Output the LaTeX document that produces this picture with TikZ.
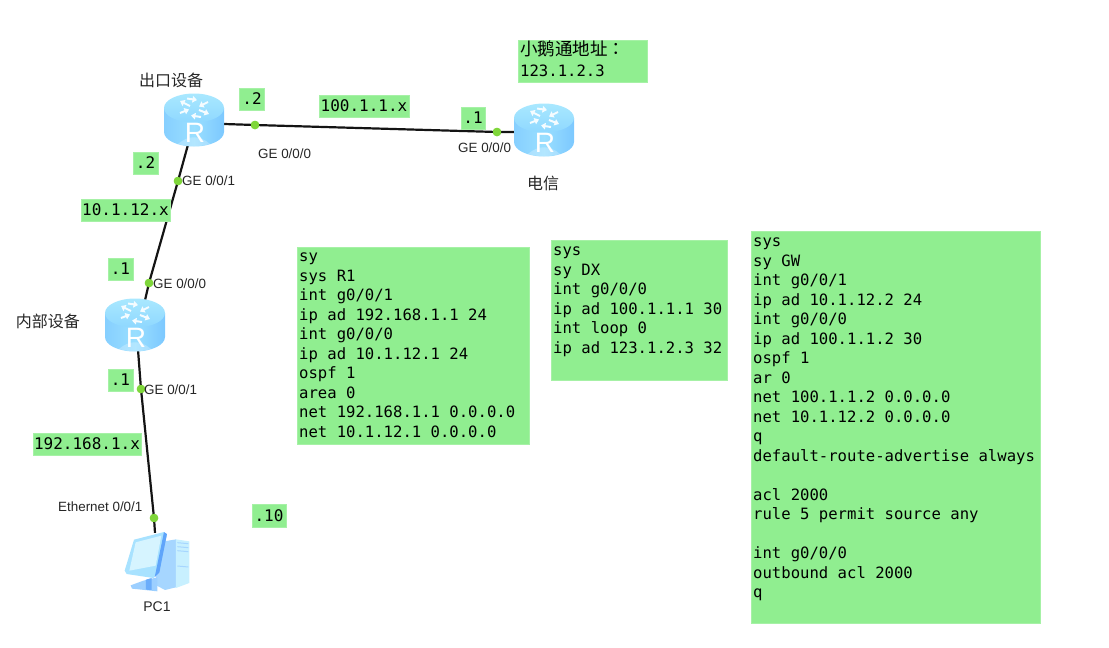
\documentclass[tikz,border=0pt]{standalone}
\usepackage{fontspec}
\setmainfont{Liberation Sans}
\newfontfamily\cjk{Noto Sans CJK SC}
\newfontfamily\cjktc{Noto Sans CJK TC}
\newfontfamily\monof{DejaVu Sans Mono}
\usetikzlibrary{arrows.meta,shadings}
\definecolor{notegreen}{HTML}{90EE90}
\definecolor{portgreen}{HTML}{7FD63A}
\definecolor{rleft}{HTML}{86CFFF}
\definecolor{rmid}{HTML}{9ADFFF}
\definecolor{rright}{HTML}{7CC8FF}
\definecolor{rtop}{HTML}{A9E8FF}
\definecolor{rtopb}{HTML}{8FD8FF}
\definecolor{pcframe}{HTML}{A8E2FF}
\definecolor{pcscreen}{HTML}{D6F4FF}
\definecolor{pcedge}{HTML}{5FA4FA}
\definecolor{pcside}{HTML}{A6D6FF}
\definecolor{pcfront}{HTML}{C8F0FF}
\definecolor{pcstand}{HTML}{9CCFFF}
\tikzset{
  x=1pt,y=-1pt,
  note/.style={fill=notegreen,draw=notegreen!80!white,line width=.4pt,inner sep=0pt,anchor=north west,font=\fontsize{15.6}{19.5}\selectfont\monof},
  short/.style={note,anchor=center,font=\fontsize{16}{18}\selectfont\monof},
  port/.style={circle,fill=portgreen,draw=none,minimum size=8.5pt,inner sep=0pt},
  portlabel/.style={font=\fontsize{13.4}{15}\selectfont,text=black!85,inner sep=0pt},
  devlabel/.style={font=\fontsize{16}{18}\selectfont\cjk,text=black!85,inner sep=0pt},
  link/.style={line width=2.2pt,draw=black!92},
  routerbox/.style={minimum width=60pt,minimum height=53pt,inner sep=0pt,draw=none},
  pcbox/.style={minimum width=66pt,minimum height=66pt,inner sep=0pt,draw=none},
  rarrow/.style={draw=white!88!rtop,line width=2pt,-{Triangle[length=4.5pt,width=6.5pt]}},
}
\newcommand{\routerdraw}[1]{%
  \begin{scope}[shift={(#1)}]
    \path[left color=rleft,right color=rright,middle color=rmid] (-30,-12) -- (-30,12) .. controls (-30,20) and (-16.6,26.5) .. (0,26.5) .. controls (16.6,26.5) and (30,20) .. (30,12) -- (30,-12) -- cycle;
    \path[fill=white,opacity=.25] (-16,24) .. controls (-6,15) and (6,15) .. (16,24) .. controls (6,27) and (-6,27) .. (-16,24) -- cycle;
    \path[top color=rtop,bottom color=rtopb] (0,-12) ellipse[x radius=30,y radius=14.5];
    \draw[rarrow] (-4,-14) -- (-14,-19);
    \draw[rarrow] (-14,-7) -- (-5,-10.5);
    \draw[rarrow] (14,-18) -- (5,-13.5);
    \draw[rarrow] (5,-10) -- (15,-6);
    \draw[rarrow] (-7,-21.5) -- (3,-20);
    \draw[rarrow] (7,-3) -- (-3,-4.5);
    \node[text=white,font=\fontsize{28}{28}\selectfont,inner sep=0pt] at (1,13) {R};
  \end{scope}}
\begin{document}
\begin{tikzpicture}
\useasboundingbox (0,0) rectangle (1109,648);
% device placeholders
\node[routerbox] (gw) at (194,120) {};
\node[routerbox] (dx) at (544,130) {};
\node[routerbox] (r1) at (135,325) {};
\node[pcbox] (pc) at (158,566) {};
% port dots (positions)
\node[port] (p1) at (255,125) {};
\node[port] (p2) at (497,132) {};
\node[port] (p3) at (178,181) {};
\node[port] (p4) at (149,283) {};
\node[port] (p5) at (141,389) {};
\node[port] (p6) at (154,518) {};
% links
\draw[link] ([yshift=-4pt]gw.east) -- (p1.center) -- (p2.center) -- ([yshift=-2pt]dx.west);
\draw[link] ([xshift=-6pt,yshift=2pt]gw.south) -- (p3.center) -- (p4.center) -- ([xshift=10pt,yshift=-2pt]r1.north);
\draw[link] ([xshift=3pt,yshift=2pt]r1.south) -- (p5.center) -- (p6.center) -- ([xshift=-3pt]pc.north);
\foreach \n in {p1,p2,p3,p4,p5,p6}{\node[port] at (\n) {};}
% routers
\routerdraw{194,120}
\routerdraw{544,130}
\routerdraw{135,325}
% PC icon
\begin{scope}[shift={(120,528)},x=.3333pt,y=-.3333pt]
  \fill[pcside] (132,40) -- (168,34) -- (168,178) -- (135,186) -- (105,170) -- (112,120) -- cycle;
  \fill[pcfront] (168,34) -- (208,40) -- (208,165) -- (168,180) -- cycle;
  \draw[pcside,line width=1pt] (172,44) -- (205,47) (172,56) -- (205,59) (172,68) -- (205,71) (172,114) -- (205,117);
  \fill[pcstand] (32,172) -- (70,158) -- (112,148) -- (112,190) -- (36,182) -- cycle;
  \fill[pcedge!80!pcstand] (78,155) -- (95,150) -- (95,186) -- (78,185) -- cycle;
  \fill[pcframe] (42,35) -- (132,12) -- (140,22) -- (118,132) -- (100,150) -- (20,138) -- (14,128) -- cycle;
  \fill[pcedge] (132,12) -- (141,18) -- (118,134) -- (104,148) -- cycle;
  \fill[pcscreen] (47,43) -- (124,23) -- (107,113) -- (28,128) -- cycle;
\end{scope}
% device labels
\node[devlabel] at (171,80) {出口设备};
\node[devlabel] at (543,183) {电信};
\node[devlabel] at (48,321) {内部设备};
\node[font=\fontsize{14}{16}\selectfont,text=black!85,inner sep=0pt] at (157,607) {PC1};
% port labels
\node[portlabel,anchor=west] at (258,154) {GE 0/0/0};
\node[portlabel,anchor=west] at (458,148) {GE 0/0/0};
\node[portlabel,anchor=west] at (182,181) {GE 0/0/1};
\node[portlabel,anchor=west] at (153,284) {GE 0/0/0};
\node[portlabel,anchor=west] at (144,390) {GE 0/0/1};
\node[portlabel,anchor=west] at (58,507) {Ethernet 0/0/1};
% short notes
\node[short,minimum width=25pt,minimum height=22pt] (n1) at (252,99) {.2};
\node[short,minimum width=25pt,minimum height=22pt] (n2) at (145.5,163) {.2};
\node[short,minimum width=24pt,minimum height=22pt] (n3) at (473,118) {.1};
\node[short,minimum width=90pt,minimum height=22pt] (n4) at (364,106) {100.1.1.x};
\node[short,minimum width=89pt,minimum height=22pt] (n5) at (125.5,210) {10.1.12.x};
\node[short,minimum width=25pt,minimum height=22pt] (n6) at (120.5,269) {.1};
\node[short,minimum width=25pt,minimum height=22pt] (n7) at (120.5,380) {.1};
\node[short,minimum width=108pt,minimum height=22pt] (n8) at (87,444) {192.168.1.x};
\node[short,minimum width=34pt,minimum height=23pt] (n9) at (269,515.5) {.10};
% top note
\node[note] (top) at (518,40) {\parbox[c][42pt][t]{129pt}{\raggedright\vspace*{1pt}\hspace*{2pt}{\cjk\fontsize{17.5}{17.5}\selectfont 小鹅通地址{\cjktc ：}}\\[1pt]\hspace*{2pt}{\fontsize{15.6}{18}\selectfont 123.1.2.3}}};
% config notes
\node[note] (cfga) at (297,247) {\parbox[c][197pt][t]{232pt}{\raggedright\leftskip=2pt\vspace*{6pt}
sy\\ sys R1\\ int g0/0/1\\ ip ad 192.168.1.1 24\\ int g0/0/0\\ ip ad 10.1.12.1 24\\ ospf 1\\ area 0\\ net 192.168.1.1 0.0.0.0\\ net 10.1.12.1 0.0.0.0}};
\node[note] (cfgb) at (551,240) {\parbox[c][140pt][t]{176pt}{\raggedright\leftskip=2pt\vspace*{7pt}
sys\\ sy DX\\ int g0/0/0\\ ip ad 100.1.1.1 30\\ int loop 0\\ ip ad 123.1.2.3 32}};
\node[note] (cfgc) at (751,231) {\parbox[c][392pt][t]{289pt}{\raggedright\leftskip=2pt\vspace*{7pt}
sys\\ sy GW\\ int g0/0/1\\ ip ad 10.1.12.2 24\\ int g0/0/0\\ ip ad 100.1.1.2 30\\ ospf 1\\ ar 0\\ net 100.1.1.2 0.0.0.0\\ net 10.1.12.2 0.0.0.0\\ q\\ default-route-advertise always\\ ~\\ acl 2000\\ rule 5 permit source any\\ ~\\ int g0/0/0\\ outbound acl 2000\\ q}};
\end{tikzpicture}
\end{document}
